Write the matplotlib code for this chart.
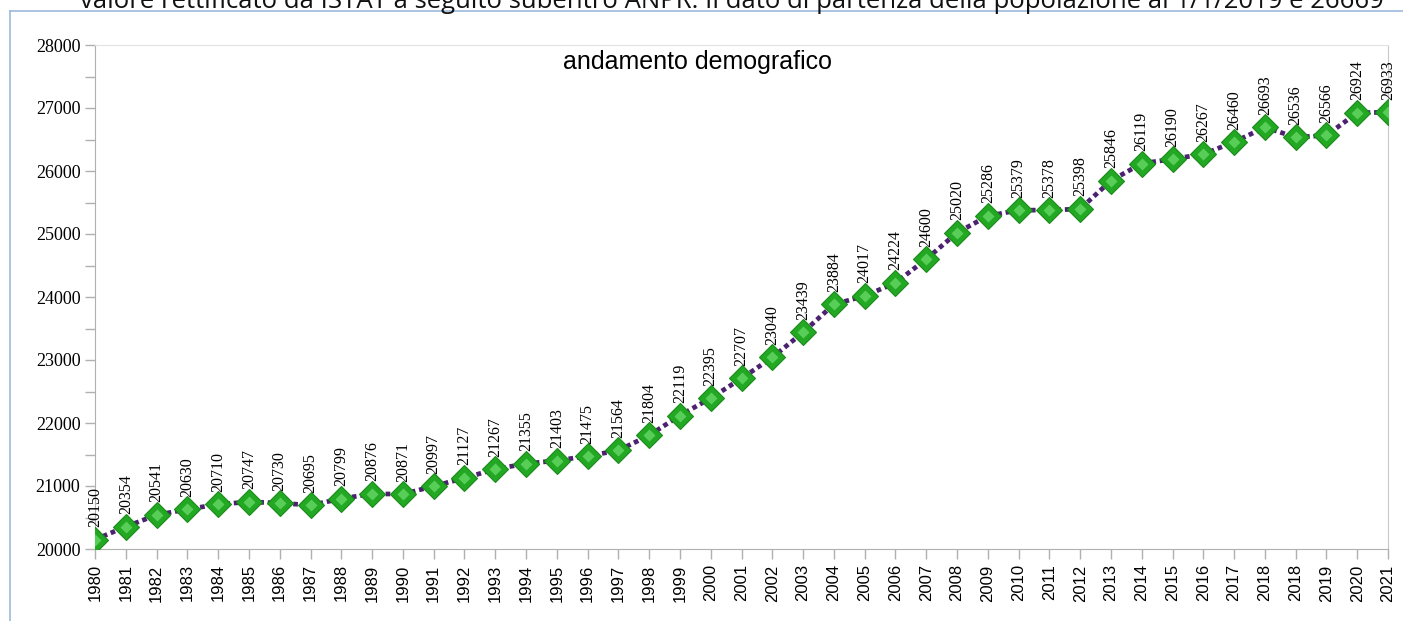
import matplotlib
matplotlib.use("Agg")
import matplotlib.pyplot as plt
from matplotlib.lines import Line2D
from matplotlib.ticker import MultipleLocator

years = [str(y) for y in range(1980, 2019)] + ["2018", "2019", "2020", "2021"]
population = [20150, 20354, 20541, 20630, 20710, 20747, 20730, 20695, 20799, 20876,
              20871, 20997, 21127, 21267, 21355, 21403, 21475, 21564, 21804, 22119,
              22395, 22707, 23040, 23439, 23884, 24017, 24224, 24600, 25020, 25286,
              25379, 25378, 25398, 25846, 26119, 26190, 26267, 26460, 26693, 26536,
              26566, 26924, 26933]

W, H = 1403, 621
fig = plt.figure(figsize=(W / 100, H / 100), dpi=100)

# axes placed in pixel coords of the reference
left, right, top, bottom = 95, 1388, 45, 549
ax = fig.add_axes([left / W, 1 - bottom / H, (right - left) / W, (bottom - top) / H])

x = list(range(len(years)))
ax.plot(x, population, linestyle=(0, (1, 0.8)), color="#4b2170", linewidth=3.4, zorder=3)
ax.plot(x, population, linestyle="none", marker="D", markersize=13,
        markerfacecolor="#22a822", markeredgecolor="#1a8a1a", markeredgewidth=0.8, zorder=4)
ax.plot(x, population, linestyle="none", marker="D", markersize=6,
        markerfacecolor="#5fd35f", markeredgecolor="none", alpha=0.9, zorder=5)

for xi, v in zip(x, population):
    ax.annotate(str(v), (xi, v), xytext=(0, 9), textcoords="offset points",
                rotation=90, ha="center", va="bottom", fontsize=11.5,
                family="Liberation Serif", color="#000000", zorder=6)

ax.set_xlim(0, len(years) - 1)
ax.set_ylim(20000, 28000)
ax.set_xticks(x)
ax.set_xticklabels(years, rotation=90, family="Liberation Sans", fontsize=12)
ax.yaxis.set_major_locator(MultipleLocator(1000))
ax.yaxis.set_minor_locator(MultipleLocator(500))
for lab in ax.get_yticklabels():
    lab.set_family("Liberation Serif")
    lab.set_fontsize(13)

ax.tick_params(axis="both", which="both", color="#b0b0b0", length=7, width=1)
ax.tick_params(axis="x", pad=4)
ax.spines["top"].set_color("#e2e2e2")
ax.spines["right"].set_color("#c8c8c8")
for s in ["left", "bottom"]:
    ax.spines[s].set_color("#b0b0b0")

ax.text(0.466, 0.99, "andamento demografico", transform=ax.transAxes,
        ha="center", va="top", fontsize=18, family="Liberation Sans")

# light blue frame of the surrounding sheet
fig.add_artist(Line2D([10 / W, 10 / W], [0, 1 - 11 / H], color="#9db9dd", linewidth=1.2))
fig.add_artist(Line2D([10 / W, 1], [1 - 11 / H, 1 - 11 / H], color="#9db9dd", linewidth=1.2))

fig.text(732 / W, 1 - 8 / H,
         "valore rettificato da ISTAT a seguito subentro ANPR. Il dato di partenza "
         "della popolazione al 1/1/2019 è 26669",
         ha="center", va="baseline", fontsize=18.5, family="Open Sans", color="#111111")

fig.savefig("out.png", dpi=100)
